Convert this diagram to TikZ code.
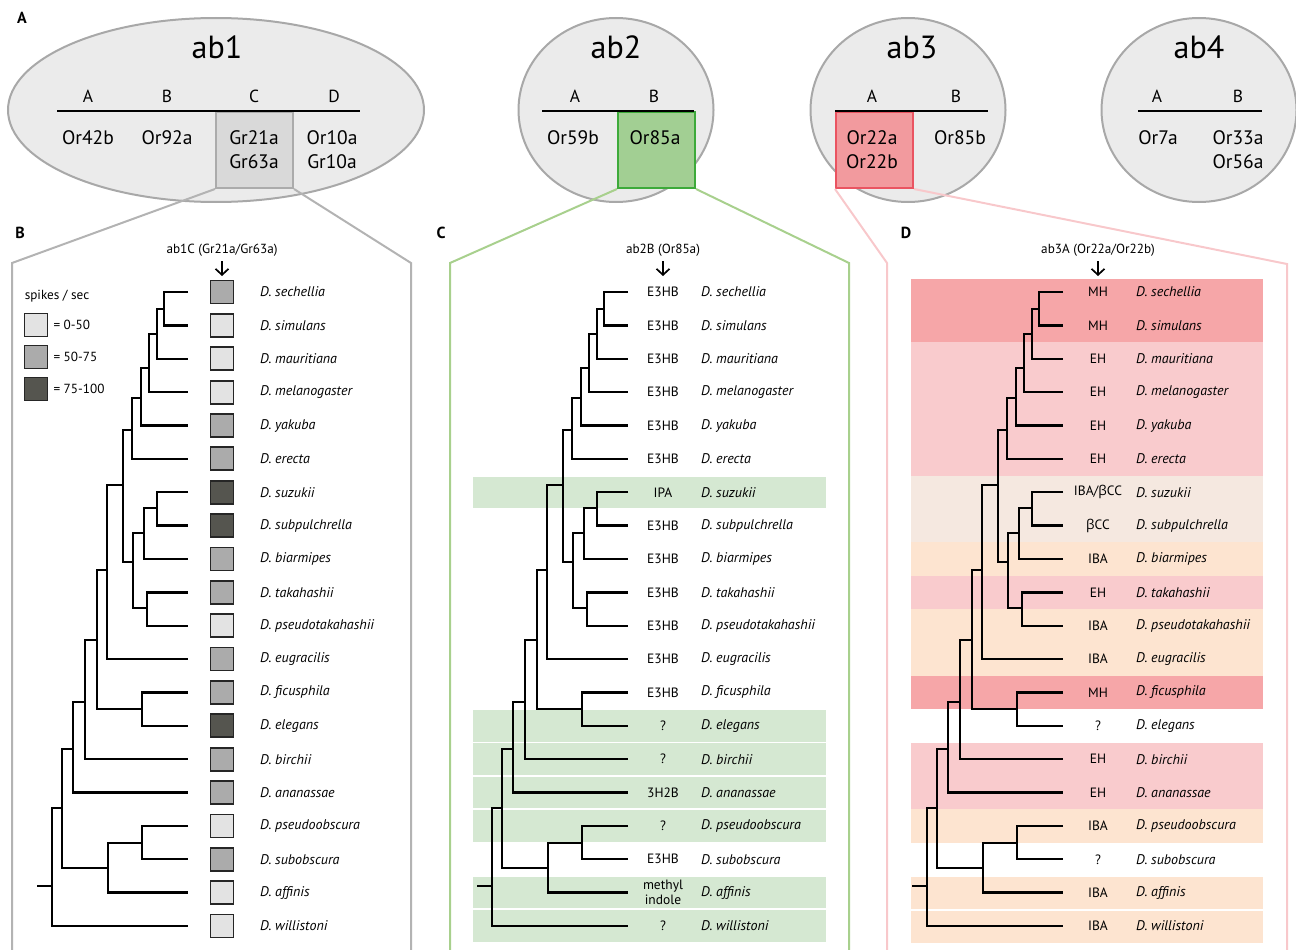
\documentclass[tikz,border=0pt]{standalone}
\usepackage{fontspec}
\setmainfont{PT Sans}
\newfontfamily\grk{Open Sans}
\usetikzlibrary{arrows.meta,shapes.geometric}
\definecolor{ellfill}{HTML}{EBEBEB}
\definecolor{ellline}{HTML}{A8A8A8}
\definecolor{boxgray}{HTML}{D9D9D9}
\definecolor{boxgrayline}{HTML}{ABABAB}
\definecolor{boxgreen}{HTML}{A2CF93}
\definecolor{boxgreenline}{HTML}{3DAA3A}
\definecolor{boxred}{HTML}{F29A9E}
\definecolor{boxredline}{HTML}{EA5461}
\definecolor{frameB}{HTML}{B3B3B3}
\definecolor{frameC}{HTML}{A8D08D}
\definecolor{frameD}{HTML}{F8C8CB}
\definecolor{bandG}{HTML}{D5E8D2}
\definecolor{mhc}{HTML}{F6A6A8}
\definecolor{ehc}{HTML}{F9CBCD}
\definecolor{bccc}{HTML}{F5E8E0}
\definecolor{ibac}{HTML}{FDE4D0}
\definecolor{sqL}{HTML}{E3E3E3}
\definecolor{sqM}{HTML}{ABABAB}
\definecolor{sqD}{HTML}{55554F}
\begin{document}
\begin{tikzpicture}[x=1pt,y=-1pt,
  ell/.style={ellipse, draw=ellline, fill=ellfill, line width=2pt, inner sep=0pt},
  big/.style={font=\fontsize{32}{36}\selectfont},
  col/.style={font=\fontsize{17.5}{20}\selectfont},
  rec/.style={font=\fontsize{19.5}{24}\selectfont, align=center},
  hline/.style={line width=2.5pt, black},
  panel/.style={font=\bfseries\fontsize{16}{18}\selectfont},
  tree/.style={line width=2.4pt, black},
  spn/.style={font=\itshape\fontsize{14}{16}\selectfont, anchor=west, inner sep=0pt},
  lab/.style={font=\fontsize{13.5}{15}\selectfont, align=center, inner sep=0pt},
  hdr/.style={font=\fontsize{13.2}{15}\selectfont},
  sq/.style={draw=black!85, line width=1.8pt, minimum size=23pt, inner sep=0pt},
  arr/.style={line width=1.7pt, -{Straight Barb[length=6pt,width=13pt]}},
  frm/.style={line width=2pt},
]
\useasboundingbox (0,0) rectangle (1296,950);

% ---------- ellipses ----------
\node[ell, minimum width=416pt, minimum height=184pt] (e1) at (216,110) {};
\node[ell, minimum width=195pt, minimum height=184pt] (e2) at (616,110) {};
\node[ell, minimum width=195pt, minimum height=184pt] (e3) at (908,110) {};
\node[ell, minimum width=195pt, minimum height=184pt] (e4) at (1199,110) {};

% ---------- highlighted boxes ----------
\node[draw=boxgrayline, fill=boxgray, line width=2pt, minimum width=77pt, minimum height=76pt, anchor=north west, inner sep=0pt] (bx1) at (215,111) {};
\node[draw=boxgreenline, fill=boxgreen, line width=2pt, minimum width=77pt, minimum height=76pt, anchor=north west, inner sep=0pt] (bx2) at (617,111) {};
\node[draw=boxredline, fill=boxred, line width=2pt, minimum width=77pt, minimum height=76pt, anchor=north west, inner sep=0pt] (bx3) at (835,111) {};

% ---------- header lines ----------
\coordinate (l1a) at (57,111); \coordinate (l1b) at (360,111);
\coordinate (l2a) at (542,111); \coordinate (l2b) at (694,111);
\coordinate (l3a) at (835,111); \coordinate (l3b) at (988,111);
\coordinate (l4a) at (1138,111); \coordinate (l4b) at (1262,111);
\draw[hline] (l1a) -- (l1b);
\draw[hline] (l2a) -- (l2b);
\draw[hline] (l3a) -- (l3b);
\draw[hline] (l4a) -- (l4b);

% ---------- top texts ----------
\node[big] (t1) at (217,47) {ab1};
\node[big] (t2) at (616,47) {ab2};
\node[big] (t3) at (912,47) {ab3};
\node[big] (t4) at (1199,47) {ab4};
\node[col] (c1a) at (88,96) {A};
\node[col] (c1b) at (167,96) {B};
\node[col] (c1c) at (254,96) {C};
\node[col] (c1d) at (334,96) {D};
\node[col] (c2a) at (575,96) {A};
\node[col] (c2b) at (654,96) {B};
\node[col] (c3a) at (872,96) {A};
\node[col] (c3b) at (956,96) {B};
\node[col] (c4a) at (1157,96) {A};
\node[col] (c4b) at (1238,96) {B};
\node[rec] (r1a) at (88,138) {Or42b};
\node[rec] (r1b) at (167,138) {Or92a};
\node[rec] (r1c) at (254,150) {Gr21a\\Gr63a};
\node[rec] (r1d) at (332,150) {Or10a\\Gr10a};
\node[rec] (r2a) at (573,138) {Or59b};
\node[rec] (r2b) at (655,138) {Or85a};
\node[rec] (r3a) at (872,150) {Or22a\\Or22b};
\node[rec] (r3b) at (960,138) {Or85b};
\node[rec] (r4a) at (1158,138) {Or7a};
\node[rec] (r4b) at (1238,150) {Or33a\\Or56a};

% ---------- panel frames ----------
\coordinate (fB1) at (12,263); \coordinate (fB2) at (12,952);
\coordinate (fB3) at (411,263); \coordinate (fB4) at (411,952);
\coordinate (fC1) at (450,263); \coordinate (fC2) at (450,952);
\coordinate (fC3) at (849,263); \coordinate (fC4) at (849,952);
\coordinate (fD1) at (887,263); \coordinate (fD2) at (887,952);
\coordinate (fD3) at (1287,264); \coordinate (fD4) at (1287,952);
\draw[frm, frameB] (bx1.south west) -- (fB1) -- (fB2);
\draw[frm, frameB] (bx1.south east) -- (fB3) -- (fB4);
\draw[frm, frameC] (bx2.south west) -- (fC1) -- (fC2);
\draw[frm, frameC] (bx2.south east) -- (fC3) -- (fC4);
\draw[frm, frameD] (bx3.south west) -- (fD1) -- (fD2);
\draw[frm, frameD] (bx3.south east) -- (fD3) -- (fD4);

% ---------- panel letters ----------
\node[panel] (pA) at (22,18) {A};
\node[panel] (pB) at (20,233) {B};
\node[panel] (pC) at (441,233) {C};
\node[panel] (pD) at (906,233) {D};

% ---------- background bands ----------
\foreach \i in {6,13,14,15,16,18,19}{
  \fill[bandG] (473,{292+33.37*\i-15.7}) rectangle (826,{292+33.37*\i+15.7});
}
\fill[mhc]  (911,279)   rectangle (1263,342.0);
\fill[ehc]  (911,342.0) rectangle (1263,475.5);
\fill[bccc] (911,475.5) rectangle (1263,542.3);
\fill[ibac] (911,542.3) rectangle (1263,575.6);
\fill[ehc]  (911,575.6) rectangle (1263,609.0);
\fill[ibac] (911,609.0) rectangle (1263,675.7);
\fill[mhc]  (911,675.7) rectangle (1263,709.1);
\fill[ehc]  (911,742.5) rectangle (1263,809.2);
\fill[ibac] (911,809.2) rectangle (1263,842.6);
\fill[ibac] (911,876.5) rectangle (1263,908.5);
\fill[ibac] (911,910.5) rectangle (1263,943);

% ---------- headers and arrows ----------
\node[hdr] (B-hd) at (222,250) {ab1C (Gr21a/Gr63a)};
\node[hdr] (C-hd) at (663,250) {ab2B (Or85a)};
\node[hdr] (D-hd) at (1098,250) {ab3A (Or22a/Or22b)};
\coordinate (B-a1) at (222,261); \coordinate (B-a2) at (222,276);
\coordinate (C-a1) at (663,261); \coordinate (C-a2) at (663,276);
\coordinate (D-a1) at (1098,261); \coordinate (D-a2) at (1098,276);
\draw[arr] (B-a1) -- (B-a2);
\draw[arr] (C-a1) -- (C-a2);
\draw[arr] (D-a1) -- (D-a2);

% ---------- legend ----------
\node[hdr] (leg) at (57,296) {spikes / sec};
\node[sq, fill=sqL] (lg1) at (36,325) {};
\node[sq, fill=sqM] (lg2) at (36,357) {};
\node[sq, fill=sqD] (lg3) at (36,389) {};
\node[hdr, anchor=west] (lg1t) at (50,325) {= 0-50};
\node[hdr, anchor=west] (lg2t) at (50,357) {= 50-75};
\node[hdr, anchor=west] (lg3t) at (50,389) {= 75-100};

% ---------- rows ----------
\foreach \s/\q/\c/\d [count=\i from 0] in {
 sechellia/sqM/E3HB/MH,
 simulans/sqL/E3HB/MH,
 mauritiana/sqL/E3HB/EH,
 melanogaster/sqL/E3HB/EH,
 yakuba/sqM/E3HB/EH,
 erecta/sqM/E3HB/EH,
 suzukii/sqD/IPA/{IBA/{\grk β}CC},
 subpulchrella/sqD/E3HB/{{\grk β}CC},
 biarmipes/sqM/E3HB/IBA,
 takahashii/sqM/E3HB/EH,
 pseudotakahashii/sqL/E3HB/IBA,
 eugracilis/sqM/E3HB/IBA,
 ficusphila/sqM/E3HB/MH,
 elegans/sqD/?/?,
 birchii/sqM/?/EH,
 ananassae/sqM/3H2B/EH,
 pseudoobscura/sqL/?/IBA,
 subobscura/sqM/E3HB/?,
 affinis/sqL/{methyl\\indole}/IBA,
 willistoni/sqL/?/IBA}
{
 \pgfmathsetmacro\yy{292+33.37*\i}
 \node[sq, fill=\q] (B-sq\i) at (222,\yy) {};
 \node[spn] (B-sp\i) at (260,\yy) {D. \s};
 \node[lab] (C-lab\i) at (663,\yy) {\c};
 \node[spn] (C-sp\i) at (701,\yy) {D. \s};
 \node[lab] (D-lab\i) at (1098,\yy) {\d};
 \node[spn] (D-sp\i) at (1136,\yy) {D. \s};
}

% ---------- trees ----------
\foreach \p/\o in {B/0,C/440,D/875}{
 \begin{scope}[xshift=\o pt]
  \foreach \i in {0,...,19}{ \coordinate (\p-t\i) at (188,{292+33.37*\i}); }
  \coordinate (\p-n1) at (164,309);
  \coordinate (\p-n2) at (157,334);
  \coordinate (\p-n3) at (149,368);
  \coordinate (\p-n4) at (141,398);
  \coordinate (\p-n5) at (132,430);
  \coordinate (\p-n6) at (157,508);
  \coordinate (\p-n7) at (144,533);
  \coordinate (\p-n8) at (147,608);
  \coordinate (\p-n9) at (133,562);
  \coordinate (\p-n10) at (123,485);
  \coordinate (\p-n11) at (107,570);
  \coordinate (\p-n12) at (142,709);
  \coordinate (\p-n13) at (97,640);
  \coordinate (\p-n14) at (85,702);
  \coordinate (\p-n15) at (73,749);
  \coordinate (\p-n16) at (142,843);
  \coordinate (\p-n17) at (108,868);
  \coordinate (\p-n18) at (62,808);
  \coordinate (\p-r) at (52,886);
  \coordinate (\p-s) at (37,886);
  \draw[tree] (\p-t0) -| (\p-n1) |- (\p-t1);
  \draw[tree] (\p-n1) -| (\p-n2) |- (\p-t2);
  \draw[tree] (\p-n2) -| (\p-n3) |- (\p-t3);
  \draw[tree] (\p-n3) -| (\p-n4) |- (\p-t4);
  \draw[tree] (\p-n4) -| (\p-n5) |- (\p-t5);
  \draw[tree] (\p-t6) -| (\p-n6) |- (\p-t7);
  \draw[tree] (\p-n6) -| (\p-n7) |- (\p-t8);
  \draw[tree] (\p-t9) -| (\p-n8) |- (\p-t10);
  \draw[tree] (\p-n7) -| (\p-n9) |- (\p-n8);
  \draw[tree] (\p-n5) -| (\p-n10) |- (\p-n9);
  \draw[tree] (\p-n10) -| (\p-n11) |- (\p-t11);
  \draw[tree] (\p-t12) -| (\p-n12) |- (\p-t13);
  \draw[tree] (\p-n11) -| (\p-n13) |- (\p-n12);
  \draw[tree] (\p-n13) -| (\p-n14) |- (\p-t14);
  \draw[tree] (\p-n14) -| (\p-n15) |- (\p-t15);
  \draw[tree] (\p-t16) -| (\p-n16) |- (\p-t17);
  \draw[tree] (\p-n16) -| (\p-n17) |- (\p-t18);
  \draw[tree] (\p-n15) -| (\p-n18) |- (\p-n17);
  \draw[tree] (\p-n18) -| (\p-r) |- (\p-t19);
  \draw[tree] (\p-s) -- (\p-r);
 \end{scope}
}
\end{tikzpicture}
\end{document}
